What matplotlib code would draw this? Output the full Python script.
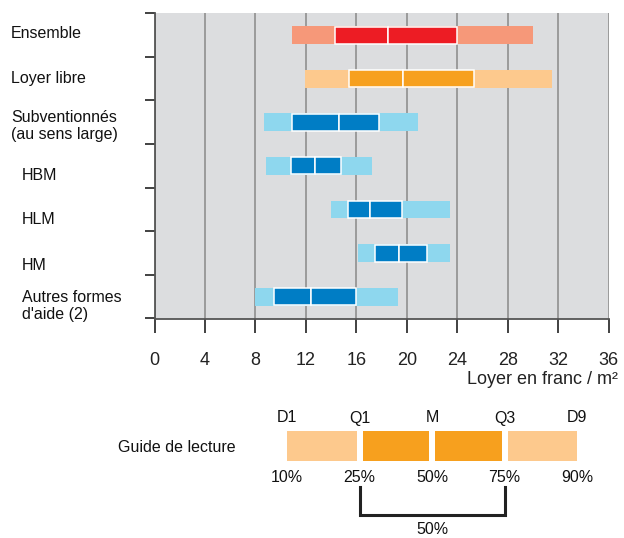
import numpy as np
import matplotlib
matplotlib.use("Agg")
import matplotlib.pyplot as plt

plt.rcParams['font.family'] = ['Liberation Sans', 'DejaVu Sans']

# categories (top to bottom) and deciles / quartiles / median (franc per m2)
categories = ["Ensemble", "Loyer libre", "Subventionnés\n(au sens large)", "HBM", "HLM", "HM",
              "Autres formes\nd'aide (2)"]
d1 = [10.9, 11.9, 8.7, 8.8, 14.0, 16.1, 8.0]
q1 = [14.3, 15.4, 10.9, 10.8, 15.3, 17.5, 9.5]
med = [18.5, 19.7, 14.6, 12.7, 17.1, 19.4, 12.4]
q3 = [24.0, 25.3, 17.8, 14.8, 19.6, 21.6, 16.0]
d9 = [30.0, 31.5, 20.9, 17.2, 23.4, 23.4, 19.3]
groups = ["red", "orange", "blue", "blue", "blue", "blue", "blue"]

xticks = [0, 4, 8, 12, 16, 20, 24, 28, 32, 36]

guide_top = ["D1", "Q1", "M", "Q3", "D9"]
guide_pct = ["10%", "25%", "50%", "75%", "90%"]

dark = {"red": "#ED1C24", "orange": "#F7A01E", "blue": "#007DC5"}
light = {"red": "#F69879", "orange": "#FDC98D", "blue": "#8ED7EE"}

fig = plt.figure(figsize=(6.24, 5.38), dpi=100)
W, H = 624, 538
ax = fig.add_axes([154.5 / W, (H - 318.5) / H, (608.7 - 154.5) / W, (318.5 - 13.3) / H])
ax.set_facecolor("#DCDDDF")

y = np.arange(len(categories)) + 0.5
bh = 0.41
for i in range(len(categories)):
    g = groups[i]
    ax.barh(y[i], d9[i] - d1[i], left=d1[i], height=bh, color=light[g], lw=0, zorder=3)
    ax.barh(y[i], med[i] - q1[i], left=q1[i], height=bh - 0.02, color=dark[g],
            edgecolor="white", lw=1.1, zorder=4)
    ax.barh(y[i], q3[i] - med[i], left=med[i], height=bh - 0.02, color=dark[g],
            edgecolor="white", lw=1.1, zorder=4)

ax.set_xlim(0, 36)
ax.set_ylim(len(categories), 0)
ax.set_xticks(xticks)
ax.set_xticklabels([str(t) for t in xticks], fontsize=13, color="#222222")
ax.set_yticks(np.arange(len(categories) + 1))
ax.set_yticklabels([])
ax.tick_params(axis="x", length=10, width=1.3, color="#333333", pad=14)
ax.tick_params(axis="y", length=7, width=1.3, color="#333333")
ax.grid(axis="x", color="#9B9B9B", lw=1.4, zorder=1)
for s in ["top", "right"]:
    ax.spines[s].set_visible(False)
for s in ["left", "bottom"]:
    ax.spines[s].set_color("#555555")
    ax.spines[s].set_linewidth(1.3)

# overlay in pixel coordinates for labels and the reading guide
ov = fig.add_axes([0, 0, 1, 1], facecolor="none")
ov.set_xlim(0, W)
ov.set_ylim(H, 0)
ov.axis("off")

ov.text(618, 380, "Loyer en franc / m²", ha="right", va="center", fontsize=13, color="#222222")

label_xy = [(11, 34), (11, 78), (11, 126), (22, 176), (22, 220), (22, 265), (22, 306)]
for lab, (lx, ly) in zip(categories, label_xy):
    ov.text(lx, ly, lab, ha="left", va="center", fontsize=11.5, color="#111111",
            linespacing=1.15)

# reading guide
gx = 287 + 72.5 * np.arange(5)
gy0, gy1 = 431, 461
seg_col = [light["orange"], dark["orange"], dark["orange"], light["orange"]]
for i in range(4):
    l = gx[i] + (3 if i > 0 else 0)
    r = gx[i + 1] - (3 if i < 3 else 0)
    ov.barh((gy0 + gy1) / 2, r - l, left=l, height=gy1 - gy0, color=seg_col[i], lw=0)
for i in range(5):
    ov.text(gx[i], 418, guide_top[i], ha="center", va="center", fontsize=11.5, color="#111111")
    ov.text(gx[i], 478, guide_pct[i], ha="center", va="center", fontsize=11.5, color="#111111")
ov.text(177, 447, "Guide de lecture", ha="center", va="center", fontsize=11.5, color="#111111")
ov.plot([gx[1], gx[1], gx[3], gx[3]], [487, 515, 515, 487], color="#222222", lw=2.2,
        solid_joinstyle="miter")
ov.text((gx[1] + gx[3]) / 2, 530, "50%", ha="center", va="center", fontsize=11.5, color="#111111")

fig.savefig("out.png", dpi=100)
